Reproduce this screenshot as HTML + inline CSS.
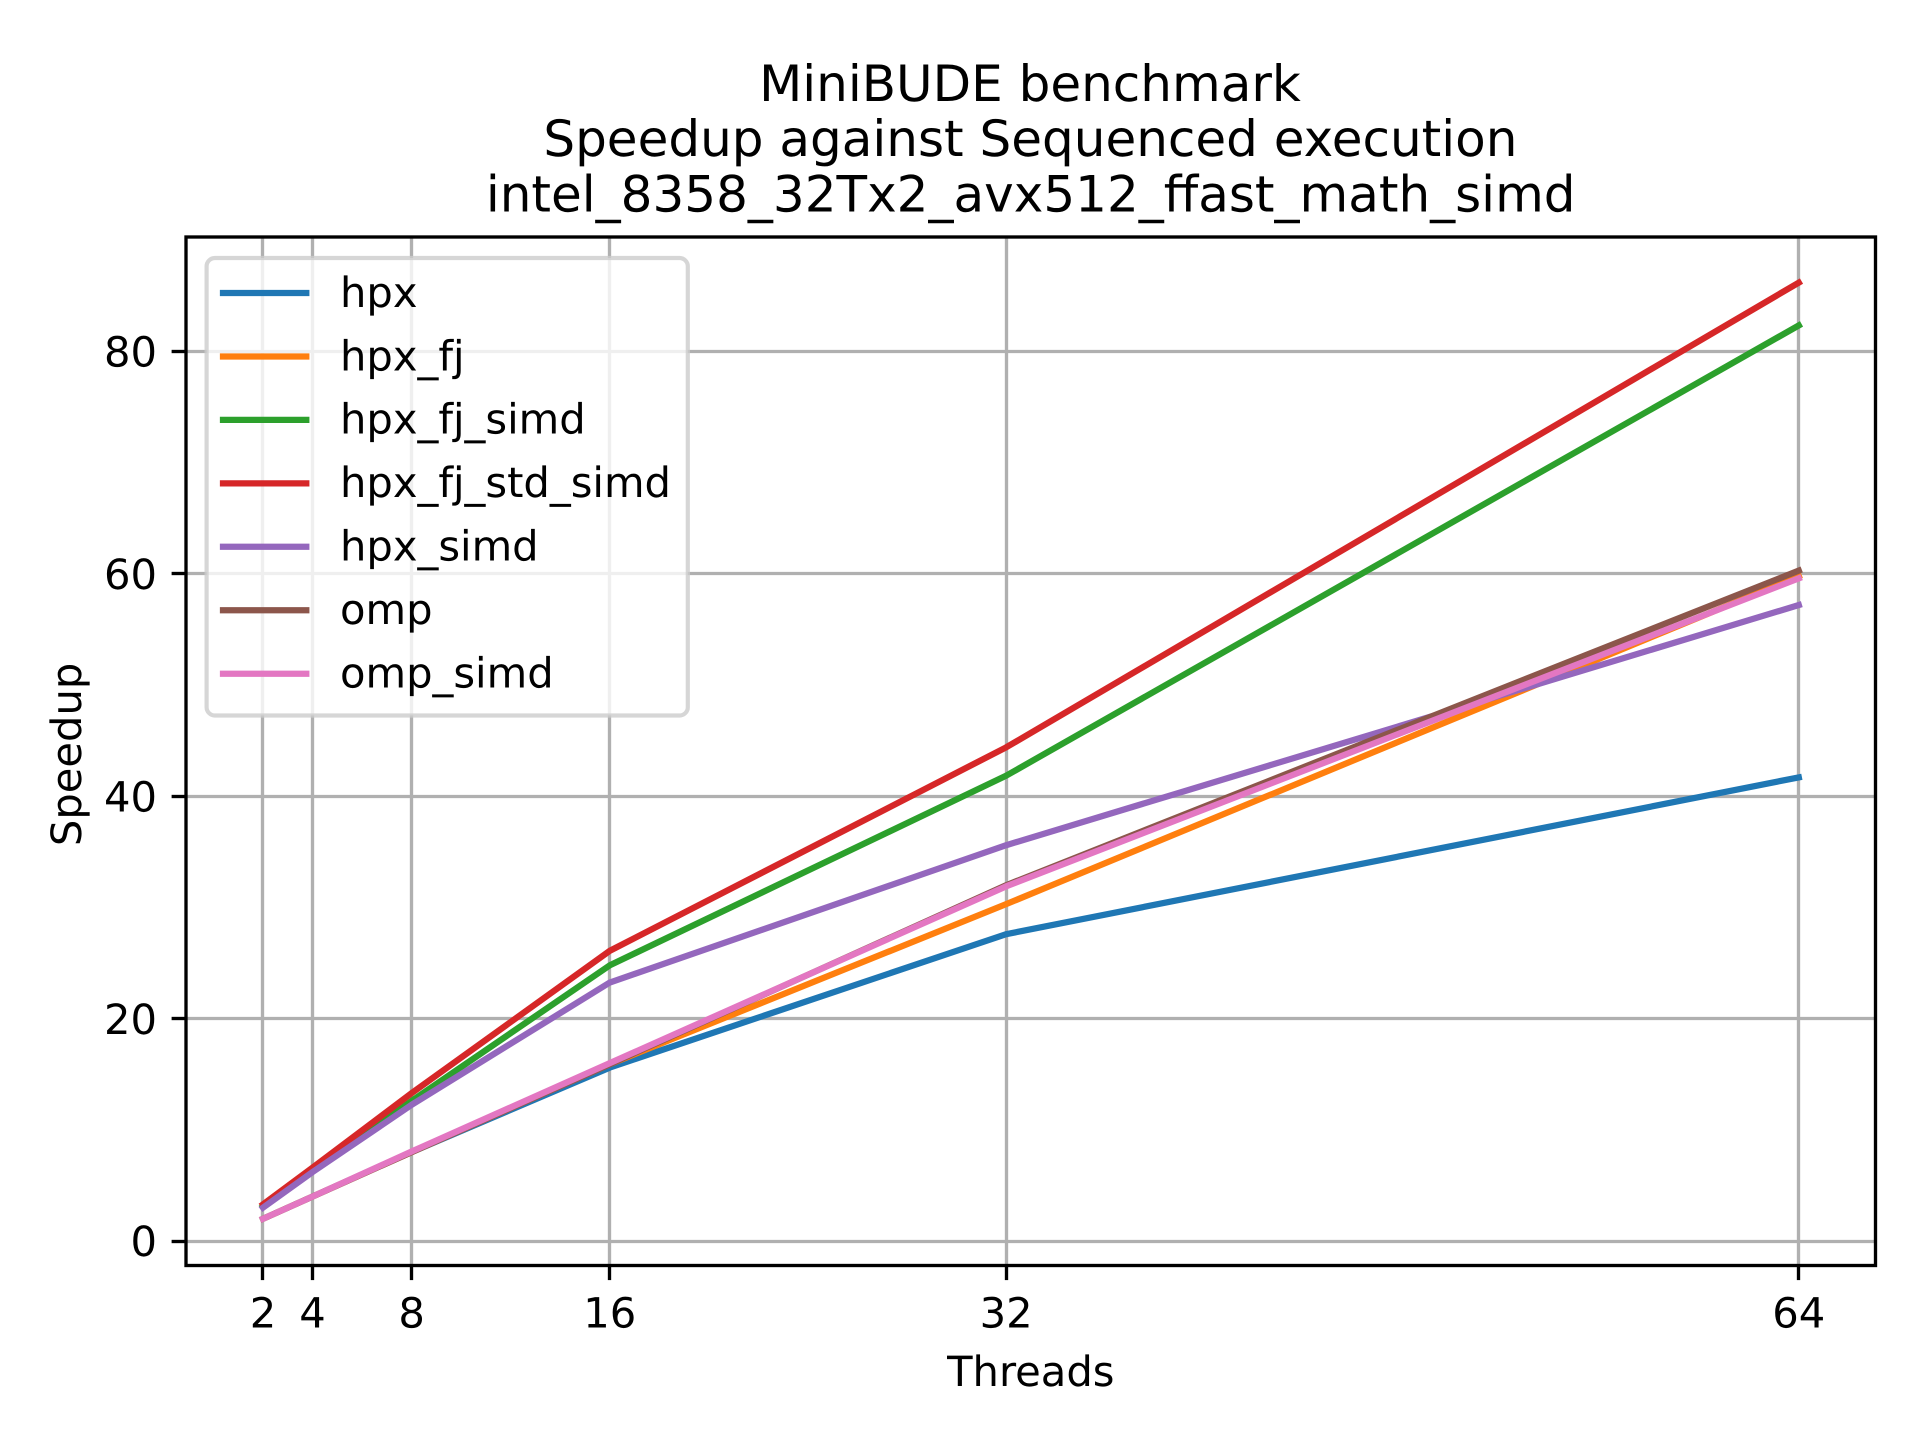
<!DOCTYPE html>
<html lang="en">
<head>
<meta charset="utf-8">
<title>MiniBUDE benchmark</title>
<style>
  html, body { margin: 0; padding: 0; background: #fff; }
  svg { display: block; }
  text { font-family: "DejaVu Sans", "Liberation Sans", sans-serif; fill: #000; text-rendering: geometricPrecision; }
</style>
</head>
<body>
<svg id="chart" xmlns="http://www.w3.org/2000/svg" width="1920" height="1440" viewBox="0 0 1920 1440">
  <rect x="0" y="0" width="1920" height="1440" fill="#fff"/>
  <g font-size="50" text-anchor="middle">
    <text x="1030" y="101">MiniBUDE benchmark</text>
    <text x="1030.4" y="156">Speedup against Sequenced execution</text>
    <text x="1030.7" y="211.5">intel_8358_32Tx2_avx512_ffast_math_simd</text>
  </g>
  <g id="grid"></g>
  <g id="series"></g>
  <g id="ticks"></g>
  <rect x="186" y="237" width="1689.5" height="1028.5" fill="none" stroke="#000" stroke-width="3.33"/>
  <g id="legend"></g>
  <text x="1030.8" y="1386" font-size="41.67" text-anchor="middle">Threads</text>
  <text x="0" y="0" font-size="41.67" text-anchor="middle" transform="translate(81 754.4) rotate(-90)">Speedup</text>
</svg>
<script>
const threads = [2, 4, 8, 16, 32, 64];
const hpx = [2.0, 4.0, 8.0, 15.6, 27.6, 41.7];
const hpxFj = [2.0, 4.0, 8.0, 15.9, 30.3, 59.8];
const hpxFjSimd = [3.1, 6.3, 12.6, 24.8, 41.85, 82.35];
const hpxFjStdSimd = [3.3, 6.6, 13.3, 26.1, 44.4, 86.2];
const hpxSimd = [3.0, 6.2, 12.25, 23.25, 35.6, 57.2];
const omp = [2.0, 4.0, 8.0, 15.9, 32.0, 60.3];
const ompSimd = [2.0, 4.0, 8.05, 16.0, 31.9, 59.6];

const seriesNames = ['hpx', 'hpx_fj', 'hpx_fj_simd', 'hpx_fj_std_simd', 'hpx_simd', 'omp', 'omp_simd'];
const seriesValues = [hpx, hpxFj, hpxFjSimd, hpxFjStdSimd, hpxSimd, omp, ompSimd];
const seriesColors = ['#1f77b4', '#ff7f0e', '#2ca02c', '#d62728', '#9467bd', '#8c564b', '#e377c2'];
const xTickValues = [2, 4, 8, 16, 32, 64];
const yTickValues = [0, 20, 40, 60, 80];

const NS = 'http://www.w3.org/2000/svg';
const plot = { left: 186.2, right: 1875.6, top: 237, bottom: 1265.5 };
const xMin = 2 - 3.1;
const xMax = 64 + 3.1;
const yMin = -2.2;
const yMax = 90.3;

function xScale(v) {
  return plot.left + (v - xMin) / (xMax - xMin) * (plot.right - plot.left);
}
function yScale(v) {
  return plot.bottom - (v - yMin) / (yMax - yMin) * (plot.bottom - plot.top);
}
function snap(p) {
  return Math.floor(p) + 0.5;
}
function make(tag, attrs, parent) {
  const node = document.createElementNS(NS, tag);
  for (const key in attrs) node.setAttribute(key, attrs[key]);
  parent.appendChild(node);
  return node;
}

const gridGroup = document.getElementById('grid');
const tickGroup = document.getElementById('ticks');
const seriesGroup = document.getElementById('series');
const legendGroup = document.getElementById('legend');

xTickValues.forEach(function (v) {
  const x = snap(xScale(v));
  const gridLine = make('line', { x1: x, x2: x, y1: plot.top, y2: plot.bottom, stroke: '#b0b0b0', 'stroke-width': 3.33 }, gridGroup);
  
  
  const tick = make('line', { x1: x, x2: x, y1: plot.bottom, y2: plot.bottom + 14.6, stroke: '#000', 'stroke-width': 3.33 }, tickGroup);
  
  
  const label = make('text', { x: xScale(v), y: 1327.3, 'font-size': 41.67, 'text-anchor': 'middle' }, tickGroup);
  label.textContent = String(v);
  
  
});

yTickValues.forEach(function (v) {
  const y = snap(yScale(v));
  const gridLine = make('line', { x1: plot.left, x2: plot.right, y1: y, y2: y, stroke: '#b0b0b0', 'stroke-width': 3.33 }, gridGroup);
  
  
  const tick = make('line', { x1: plot.left - 14.6, x2: plot.left, y1: y, y2: y, stroke: '#000', 'stroke-width': 3.33 }, tickGroup);
  
  
  const label = make('text', { x: 157, y: yScale(v) + 15.2, 'font-size': 41.67, 'text-anchor': 'end' }, tickGroup);
  label.textContent = String(v);
  
  
});

seriesNames.forEach(function (name, i) {
  const points = seriesValues[i].map(function (v, j) {
    return xScale(threads[j]).toFixed(2) + ',' + yScale(v).toFixed(2);
  }).join(' ');
  const line = make('polyline', {
    points: points,
    fill: 'none',
    stroke: seriesColors[i],
    'stroke-width': 6.25,
    'stroke-linecap': 'square',
    'stroke-linejoin': 'round'
  }, seriesGroup);
  
  
});

const legendBox = make('rect', {
  x: 206.6, y: 258, width: 481.2, height: 457.5, rx: 8.3, ry: 8.3,
  fill: '#fff', 'fill-opacity': 0.8,
  stroke: '#cccccc', 'stroke-opacity': 0.8, 'stroke-width': 4.17
}, legendGroup);



seriesNames.forEach(function (name, i) {
  const rowY = 293 + i * 63.45;
  const entry = make('g', {}, legendGroup);
  
  
  const swatch = make('line', {
    x1: 223, x2: 306.3, y1: rowY, y2: rowY,
    stroke: seriesColors[i], 'stroke-width': 6.25, 'stroke-linecap': 'square'
  }, entry);
  
  
  const label = make('text', { x: 340, y: rowY + 13.8, 'font-size': 41.67 }, entry);
  label.textContent = name;
  
  
});
</script>
</body>
</html>
